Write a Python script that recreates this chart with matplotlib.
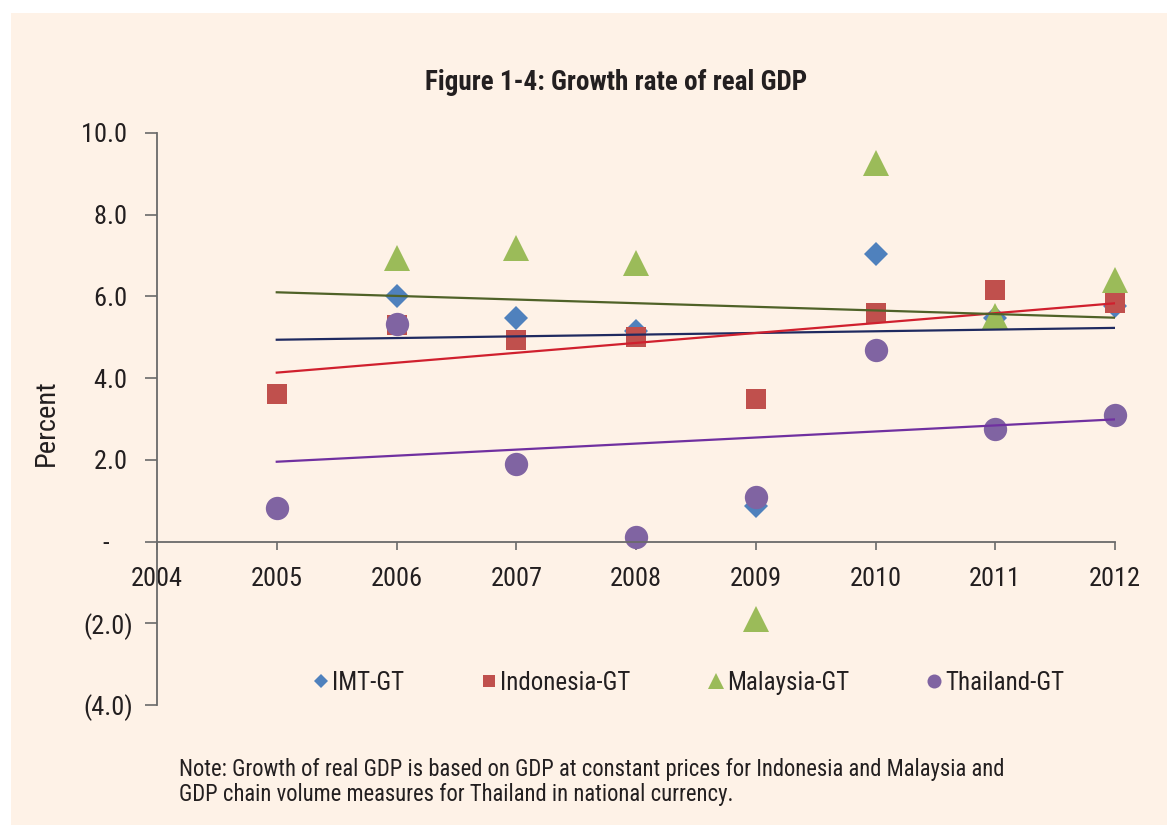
import numpy as np
import matplotlib
matplotlib.use("Agg")
import matplotlib.pyplot as plt
from matplotlib import font_manager
from matplotlib.patches import Rectangle
from matplotlib.ticker import FuncFormatter

# ---------------- data ----------------
years = [2005, 2006, 2007, 2008, 2009, 2010, 2011, 2012]
imt_gt = [np.nan, 6.00, 5.47, 5.15, 0.86, 7.03, 5.47, 5.76]
indonesia_gt = [3.60, 5.29, 4.93, 5.00, 3.48, 5.59, 6.15, 5.83]
malaysia_gt = [np.nan, 6.94, 7.18, 6.81, -1.89, 9.26, 5.52, 6.40]
thailand_gt = [0.83, 5.32, 1.89, 0.12, 1.08, 4.68, 2.75, 3.11]
series_names = ["IMT-GT", "Indonesia-GT", "Malaysia-GT", "Thailand-GT"]
x_ticks = [2004, 2005, 2006, 2007, 2008, 2009, 2010, 2011, 2012]
y_ticks = [-4, -2, 0, 2, 4, 6, 8, 10]
title = "Figure 1-4: Growth rate of real GDP"
y_label = "Percent"
note = ("Note: Growth of real GDP is based on GDP at constant prices for Indonesia and Malaysia and\n"
        "GDP chain volume measures for Thailand in national currency.")

# ---------------- style ----------------
avail = {f.name for f in font_manager.fontManager.ttflist}
narrow = "Roboto Condensed" if "Roboto Condensed" in avail else "DejaVu Sans"
plt.rcParams["font.family"] = [narrow, "DejaVu Sans"]
txt = "#231f20"
axc = "#6a6a6a"
bg = "#fef2e7"

marker_colors = ["#4f81bd", "#c0504d", "#9bbb59", "#8064a2"]
trend_colors = ["#1f2a60", "#d0202e", "#4f6228", "#7030a0"]
markers = ["D", "s", "^", "o"]
msizes = [12.7, 15, 18.5, 16.8]
data = [imt_gt, indonesia_gt, malaysia_gt, thailand_gt]

fig = plt.figure(figsize=(11.67, 8.25), dpi=100)
fig.patches.append(Rectangle((11 / 1167, -0.05), 1.1, 1.05 - 13 / 825, transform=fig.transFigure,
                             facecolor=bg, edgecolor="none", zorder=-10))

ax = fig.add_axes([157 / 1167, 1 - 705 / 825, (1115 - 157) / 1167, (705 - 133) / 825])
ax.set_facecolor("none")
ax.set_xlim(2004, 2012)
ax.set_ylim(-4, 10)

handles = []
x = np.array(years, dtype=float)
for vals, m, ms, c in zip(data, markers, msizes, marker_colors):
    h, = ax.plot(years, vals, linestyle="none", marker=m, markersize=ms, color=c,
                 markeredgewidth=0, zorder=2, clip_on=False)
    handles.append(h)
for vals, tc in zip(data, trend_colors):
    v = np.array(vals, dtype=float)
    ok = ~np.isnan(v)
    k, b = np.polyfit(x[ok], v[ok], 1)
    xs = np.array([years[0], years[-1]], dtype=float)
    ax.plot(xs, k * xs + b, color=tc, linewidth=1.6, zorder=3)

for s in ["top", "right"]:
    ax.spines[s].set_visible(False)
ax.spines["bottom"].set_position(("data", 0))
for s in ["left", "bottom"]:
    ax.spines[s].set_color(axc)
    ax.spines[s].set_linewidth(1.3)

ax.set_xticks(x_ticks)
ax.set_xticklabels([str(t) for t in x_ticks])
ax.set_yticks(y_ticks)


def acct(v, pos):
    if abs(v) < 1e-9:
        return "-    "
    if v < 0:
        return "(%.1f)" % abs(v)
    return "%.1f " % v


ax.yaxis.set_major_formatter(FuncFormatter(acct))
ax.tick_params(axis="x", direction="out", length=6, width=1.2, color=axc, labelsize=19,
               labelcolor=txt, pad=12)
ax.tick_params(axis="y", direction="out", length=9, width=1.2, color=axc, labelsize=19,
               labelcolor=txt, pad=8)

fig.text(46 / 1167, 1 - 423 / 825, y_label, rotation=90, ha="center", va="center",
         fontsize=20.5, color=txt)
fig.text(616 / 1167, 1 - 82 / 825, title, ha="center", va="center", fontsize=19.5,
         fontweight="bold", color=txt)
fig.text(179 / 1167, 1 - 782 / 825, note, ha="left", va="center", fontsize=16.3,
         color=txt, linespacing=1.07)

ax.legend(handles, series_names, ncol=4, loc="center", bbox_to_anchor=(689 / 1167, 1 - 683 / 825),
          bbox_transform=fig.transFigure, frameon=False, handlelength=0.6, handletextpad=0.15,
          columnspacing=3.1, markerscale=0.6, fontsize=18, labelcolor=txt)

fig.savefig("out.png", dpi=100)
